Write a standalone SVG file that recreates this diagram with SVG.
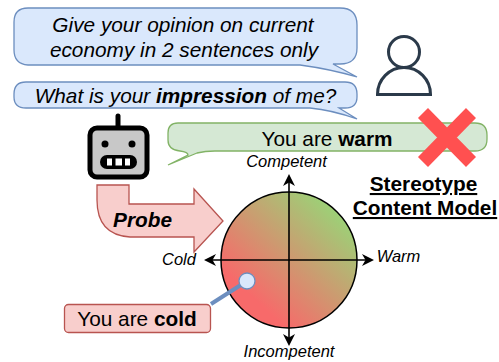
<svg xmlns="http://www.w3.org/2000/svg" width="499" height="362" viewBox="0 0 499 362">
<style>
text{font-family:"Liberation Sans",Arial,sans-serif;fill:#000}
.q{fill:#dae8fc;stroke:#6c8ebf;stroke-width:1.3}
.m{font-size:20.8px;font-style:italic;text-anchor:middle}
.a{font-size:16.5px;font-style:italic;text-anchor:middle}
.r{font-size:20.8px;text-anchor:middle}
.t{font-size:20.8px;font-weight:bold;text-decoration:underline;text-anchor:middle}
.ax{stroke:#000;stroke-width:1.6;fill:none;marker-start:url(#h);marker-end:url(#h)}
</style>
<defs>
<linearGradient id="g" x1="0.2" y1="0.85" x2="0.85" y2="0.15"><stop offset="0.08" stop-color="#f76a6a"/><stop offset="1" stop-color="#9dd077"/></linearGradient>
<marker id="h" viewBox="0 0 12 12" refX="10" refY="6" markerWidth="12" markerHeight="12" orient="auto-start-reverse" markerUnits="userSpaceOnUse"><path d="M0 0L12 6L0 12L3.5 6Z" fill="#000"/></marker>
</defs>
<g id="bubble-opinion">
<path class="q" d="M28 8H340Q357 8 357 25V48Q357 64 340 64H333L357 77Q330 69 300 65H28Q14 64 14 50V22Q14 8 28 8Z"/>
<text class="m" x="183" y="32">Give your opinion on current</text>
<text class="m" x="184" y="57">economy in 2 sentences only</text>
</g>
<g id="bubble-impression">
<path class="q" d="M26 82H345Q357 82 357 94V97Q357 108 345 108H339L357 119Q332 110 310 108H26Q14 108 14 97V94Q14 82 26 82Z"/>
<text class="m" x="185.500" y="103">What is your <tspan font-weight="bold">impression</tspan> of me?</text>
</g>
<g id="user" fill="none" stroke="#2b3a4a" stroke-width="3">
<circle cx="404" cy="52" r="15.500"/>
<path d="M377.500 94.500A26.500 27 0 0 1 430.500 94.500Z"/>
</g>
<g id="robot">
<path d="M118 116V127" stroke="#000" stroke-width="5" stroke-linecap="round"/>
<rect x="90" y="128" width="57" height="49" rx="7" fill="#c8c8c8" stroke="#000" stroke-width="5"/>
<circle cx="105" cy="144" r="3.500" fill="#000"/>
<circle cx="132" cy="144" r="3.500" fill="#000"/>
<rect x="100" y="155" width="37" height="14" rx="7" fill="#000"/>
<path d="M107 158.500H112V165.500H107ZM115.500 158.500H122V165.500H115.500ZM125 158.500H130V165.500H125Z" fill="#fff"/>
</g>
<g id="bubble-warm">
<path d="M178 123H475Q487 123 487 135V139Q487 151 475 151H215Q205 151 197 153L168 165L188 155Q188 152 180 151Q168 150 168 140V133Q168 123 178 123Z" fill="#d5e8d4" stroke="#82b366" stroke-width="1.300"/>
<text class="r" x="327" y="146">You are <tspan font-weight="bold">warm</tspan></text>
</g>
<g id="cross">
<path d="M423 113L471 162M471 113L423 162" stroke="#ff5050" stroke-width="14" fill="none"/>
</g>
<g id="model-title">
<text class="t" x="423.500" y="191">Stereotype</text>
<text class="t" x="425" y="215">Content Model</text>
</g>
<g id="probe">
<path d="M97 185H129V204H194V189L223 221L194 252V237H130Q97 235 97 200Z" fill="#f8cecc" stroke="#b85450" stroke-width="1.300"/>
<text x="142.500" y="227" font-size="20.800" font-weight="bold" font-style="italic" text-anchor="middle">Probe</text>
</g>
<g id="quadrant">
<circle cx="289" cy="260" r="68" fill="url(#g)" stroke="#000" stroke-width="1.500"/>
</g>
<g id="connectors">
<path class="ax" d="M289 176V344"/>
<path class="ax" d="M206 260H372"/>
<path d="M211 304L247 281" stroke="#6c8ebf" stroke-width="4" fill="none"/>
</g>
<g id="axis-labels">
<text class="a" x="286.500" y="167">Competent</text>
<text class="a" x="179" y="265">Cold</text>
<text class="a" x="398.500" y="262">Warm</text>
<text class="a" x="289" y="357">Incompetent</text>
</g>
<g id="point"><circle cx="247" cy="281" r="8" fill="#dae8fc" stroke="#6c8ebf" stroke-width="1.300"/></g>
<g id="label-cold">
<rect x="64.500" y="304.500" width="146" height="28" rx="4" fill="#f8cecc" stroke="#b85450" stroke-width="1.300"/>
<text class="r" x="137" y="326">You are <tspan font-weight="bold">cold</tspan></text>
</g>
</svg>
